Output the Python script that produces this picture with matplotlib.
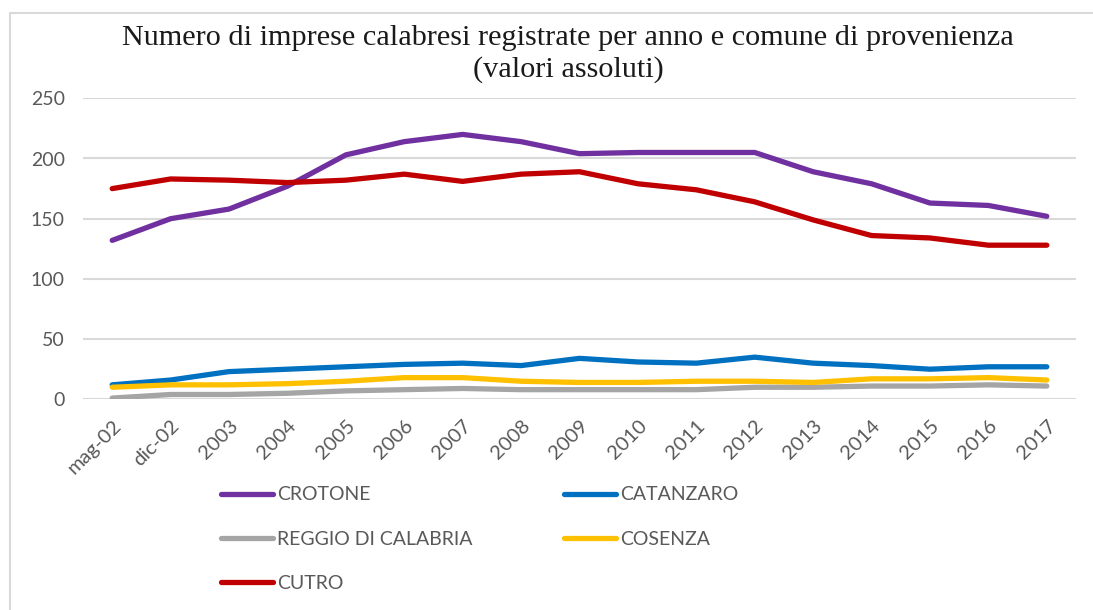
import matplotlib
matplotlib.use("Agg")
import matplotlib.pyplot as plt
from matplotlib.patches import Rectangle

categories = ["mag-02", "dic-02", "2003", "2004", "2005", "2006", "2007", "2008",
              "2009", "2010", "2011", "2012", "2013", "2014", "2015", "2016", "2017"]
crotone = [132, 150, 158, 177, 203, 214, 220, 214, 204, 205, 205, 205, 189, 179, 163, 161, 152]
catanzaro = [12, 16, 23, 25, 27, 29, 30, 28, 34, 31, 30, 35, 30, 28, 25, 27, 27]
reggio = [1, 4, 4, 5, 7, 8, 9, 8, 8, 8, 8, 10, 10, 11, 11, 12, 11]
cosenza = [10, 12, 12, 13, 15, 18, 18, 15, 14, 14, 15, 15, 14, 17, 17, 18, 16]
cutro = [175, 183, 182, 180, 182, 187, 181, 187, 189, 179, 174, 164, 149, 136, 134, 128, 128]
yticks = [0, 50, 100, 150, 200, 250]

W, H = 1093, 610
fig = plt.figure(figsize=(W / 100, H / 100), dpi=100)
fig.patch.set_facecolor("white")

# chart border
fig.add_artist(Rectangle((10 / W, -0.1), 1.2, 1 - 13 / H + 0.1, transform=fig.transFigure,
                         fill=False, edgecolor="#d9d9d9", linewidth=1.5))

ax = fig.add_axes([83 / W, 1 - 399.3 / H, (1076 - 83) / W, (399.3 - 98.3) / H])
x = list(range(len(categories)))
series = [("CROTONE", crotone, "#7030A0"), ("CATANZARO", catanzaro, "#0070C0"),
          ("REGGIO DI CALABRIA", reggio, "#A5A5A5"), ("COSENZA", cosenza, "#FFC000"),
          ("CUTRO", cutro, "#C00000")]
handles = {}
for name, vals, col in series:
    ln, = ax.plot(x, vals, color=col, linewidth=3.8, solid_capstyle="round",
                  solid_joinstyle="round", label=name)
    handles[name] = ln

ax.set_xlim(-0.5, len(categories) - 0.5)
ax.set_ylim(0, 250)
ax.grid(axis="y", color="#d9d9d9", linewidth=1.5)
ax.set_axisbelow(True)
for s in ax.spines.values():
    s.set_visible(False)
ax.tick_params(axis="both", length=0, colors="#595959")
tick_font = ["Lato", "DejaVu Sans"]
ax.set_yticks(yticks)
ax.set_yticklabels([str(v) for v in yticks], family=tick_font, fontsize=14, color="#595959")
ax.tick_params(axis="y", pad=13)
ax.set_xticks(x)
ax.set_xticklabels(categories, rotation=45, ha="right", rotation_mode="anchor",
                   family=tick_font, fontsize=14.5, color="#595959")
ax.tick_params(axis="x", pad=13)

title_font = ["Liberation Serif", "DejaVu Serif"]
fig.text(568 / W, 1 - 38 / H, "Numero di imprese calabresi registrate per anno e comune di provenienza",
         ha="center", va="center", family=title_font, fontsize=21.8, color="#1a1a1a")
fig.text(568 / W, 1 - 70 / H, "(valori assoluti)",
         ha="center", va="center", family=title_font, fontsize=21.8, color="#1a1a1a")

order = ["CROTONE", "REGGIO DI CALABRIA", "CUTRO", "CATANZARO", "COSENZA"]
leg = fig.legend([handles[n] for n in order], order, ncol=2, loc="upper left",
                 bbox_to_anchor=(203 / W, 1 - 469 / H), frameon=False,
                 prop={"family": tick_font, "size": 14}, handlelength=2.7,
                 handletextpad=0.2, columnspacing=4.7, labelspacing=1.4)
for t in leg.get_texts():
    t.set_color("#595959")

fig.savefig("out.png", dpi=100, facecolor="white")
